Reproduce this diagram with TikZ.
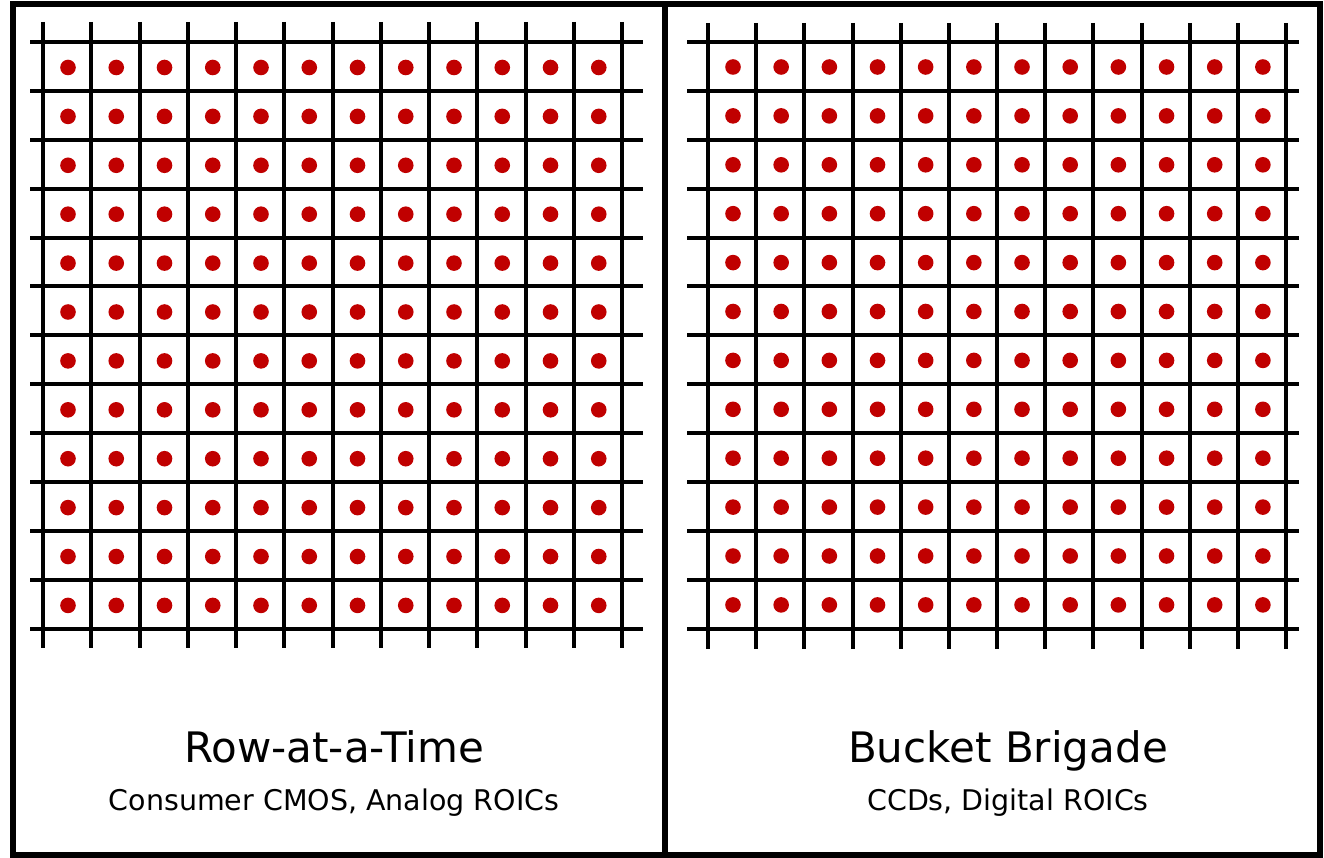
\documentclass[tikz,border=0pt]{standalone}
\usepackage{fontspec}
\setmainfont{DejaVu Sans}
\definecolor{pixred}{RGB}{192,0,0}
\begin{document}
\begin{tikzpicture}[
  x=1pt, y=-1pt,
  frame/.style={draw, line width=6pt},
  wire/.style={draw, line width=4pt},
  pixel/.style={fill=pixred},
  title/.style={font=\fontsize{42}{46}\selectfont, anchor=base},
  subtitle/.style={font=\fontsize{28.5}{32}\selectfont, anchor=base}
]
\useasboundingbox (0,0) rectangle (1324,858);
\draw[frame] (13,4) rectangle (1320,855);
\draw[frame] (665,4) -- (665,855);
% left array
\foreach \i in {0,...,12} {
  \draw[wire] ({43+48.25*\i},22) -- ({43+48.25*\i},648);
  \draw[wire] (30,{42+48.9*\i}) -- (643,{42+48.9*\i});
}
\foreach \i in {0,...,11}
  \foreach \j in {0,...,11}
    \fill[pixel] ({68+48.25*\i},{67.5+48.9*\j}) circle (7.8);
% right array
\foreach \i in {0,...,12} {
  \draw[wire] ({708+48.17*\i},23) -- ({708+48.17*\i},649);
  \draw[wire] (687,{42+48.9*\i}) -- (1299,{42+48.9*\i});
}
\foreach \i in {0,...,11}
  \foreach \j in {0,...,11}
    \fill[pixel] ({733+48.17*\i},{67+48.9*\j}) circle (7.8);
% labels
\node[title] (rowtitle) at (334,762) {Row-at-a-Time};
\node[subtitle] (rowsub) at (334,810) {Consumer CMOS, Analog ROICs};
\node[title] (bbtitle) at (1008,762) {Bucket Brigade};
\node[subtitle] (bbsub) at (1008,810) {CCDs, Digital ROICs};
\end{tikzpicture}
\end{document}
